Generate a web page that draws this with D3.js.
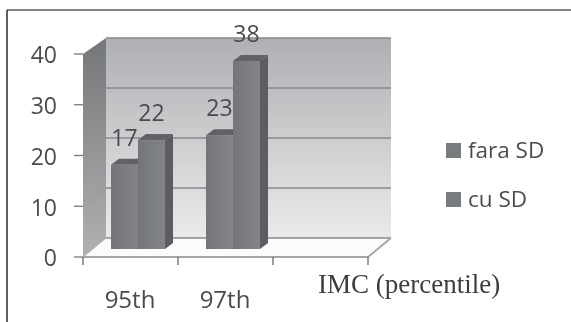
<!DOCTYPE html>
<html>
<head>
<meta charset="utf-8">
<script src="https://cdn.jsdelivr.net/npm/d3@7"></script>
<style>
html,body{margin:0;padding:0;background:#fff}
svg{display:block}
text{font-family:"Open Sans","Noto Sans",sans-serif;fill:#4a4c50}
</style>
</head>
<body>
<svg id="chart" width="571" height="322"></svg>
<script>
const categories = ["95th", "97th"];
const slots = ["95th", "97th", "blank"];
const seriesNames = ["fara SD", "cu SD"];
const faraSD = [17, 23];
const cuSD = [22, 38];
const yTicks = [0, 10, 20, 30, 40];

const svg = d3.select("#chart");
const depthWall = {dx: 23, dy: -19};
const depthBar = {dx: 8, dy: -6};

const x = d3.scaleBand().domain(slots).range([83, 368]).padding(0);
const yFront = d3.scaleLinear().domain([0, 40]).range([257, 54]);
const yWall = d3.scaleLinear().domain([0, 40]).range([238, 38]);
const yBar = d3.scaleLinear().domain([0, 40]).range([249, 51]);
const xSeries = d3.scaleBand().domain(seriesNames).range([28, 82]);

const defs = svg.append("defs");
function gradient(id, top, bottom, x2, y2) {
  const g = defs.append("linearGradient").attr("id", id)
    .attr("x1", 0).attr("y1", 0).attr("x2", x2).attr("y2", y2);
  g.append("stop").attr("offset", 0).attr("stop-color", top);
  g.append("stop").attr("offset", 1).attr("stop-color", bottom);
}
gradient("wallBack", "#aeb0b3", "#e9eaeb", 0, 1);
gradient("wallSide", "#747678", "#b0b1b3", 0, 1);
gradient("barFront", "#737578", "#828487", 1, 0);

defs.append("filter").attr("id", "soft")
  .append("feGaussianBlur").attr("stdDeviation", 0.5);

const root = svg.append("g").attr("filter", "url(#soft)");

// frame: only the top and left edges are ruled
root.append("line").attr("x1", 7).attr("x2", 571).attr("y1", 10).attr("y2", 10)
  .attr("stroke", "#5a5a5a").attr("stroke-width", 1.5);
root.append("line").attr("x1", 7).attr("x2", 7).attr("y1", 10).attr("y2", 322)
  .attr("stroke", "#4e4e4e").attr("stroke-width", 1.8);

const [x0, x1] = x.range();
const yB = yFront(0), yT = yFront(40);
const poly = pts => pts.map(p => p.join(",")).join(" ");

// back wall, side wall and floor
root.append("polygon").attr("fill", "url(#wallBack)").attr("points", poly([
  [x0 + depthWall.dx, yWall(40)], [x1 + depthWall.dx, yWall(40)],
  [x1 + depthWall.dx, yWall(0)], [x0 + depthWall.dx, yWall(0)]]));
root.append("polygon").attr("fill", "url(#wallSide)").attr("points", poly([
  [x0, yT], [x0 + depthWall.dx, yWall(40)], [x0 + depthWall.dx, yWall(0)], [x0, yB]]));
root.append("polygon").attr("fill", "#fbfbfb").attr("points", poly([
  [x0, yB], [x0 + depthWall.dx, yWall(0)], [x1 + depthWall.dx, yWall(0)], [x1, yB]]));

// gridlines across the back wall and faintly along the side wall
yTicks.forEach(t => {
  root.append("line").attr("x1", x0 + depthWall.dx).attr("x2", x1 + depthWall.dx)
    .attr("y1", yWall(t)).attr("y2", yWall(t))
    .attr("stroke", "#87898c").attr("stroke-width", 1.6);
  if (t > 0 && t < 40) {
    root.append("line").attr("x1", x0).attr("x2", x0 + depthWall.dx)
      .attr("y1", yFront(t)).attr("y2", yWall(t))
      .attr("stroke", "#8f9193").attr("stroke-width", 0.8).attr("opacity", 0.5);
  }
});

// floor outline
root.append("polyline").attr("fill", "none").attr("stroke", "#a3a5a8").attr("stroke-width", 1.8)
  .attr("points", poly([[x0, yB], [x1, yB], [x1 + depthWall.dx, yWall(0)]]));
root.append("line").attr("x1", x0).attr("x2", x0 + depthWall.dx)
  .attr("y1", yB).attr("y2", yWall(0)).attr("stroke", "#a3a5a8").attr("stroke-width", 1);

// axes
yTicks.forEach(t => {
  root.append("line").attr("x1", x0 - 9).attr("x2", x0)
    .attr("y1", yFront(t)).attr("y2", yFront(t)).attr("stroke", "#77797c").attr("stroke-width", 1.3);
  root.append("text").attr("x", 57).attr("y", yFront(t) + 1).attr("dy", "0.36em")
    .attr("text-anchor", "end").attr("font-size", 23).text(t);
});
[...slots.map(s => x(s)), x1].forEach(v => {
  root.append("line").attr("x1", v).attr("x2", v).attr("y1", yB).attr("y2", yB + 8)
    .attr("stroke", "#66686b").attr("stroke-width", 1.3);
});

// three-dimensional bars
const barData = categories.flatMap((c, i) => [
  {cat: c, name: seriesNames[0], value: faraSD[i]},
  {cat: c, name: seriesNames[1], value: cuSD[i]}
]);
const bars = root.append("g").selectAll("g").data(barData).join("g");
bars.append("polygon").attr("fill", "#5b5d60").attr("points", d => {
  const r = x(d.cat) + xSeries(d.name) + xSeries.bandwidth();
  return poly([[r, yBar(d.value)], [r + depthBar.dx, yBar(d.value) + depthBar.dy],
    [r + depthBar.dx, yBar(0) + depthBar.dy], [r, yBar(0)]]);
});
bars.append("polygon").attr("fill", "#606265").attr("points", d => {
  const l = x(d.cat) + xSeries(d.name), r = l + xSeries.bandwidth();
  return poly([[l, yBar(d.value)], [l + depthBar.dx, yBar(d.value) + depthBar.dy],
    [r + depthBar.dx, yBar(d.value) + depthBar.dy], [r, yBar(d.value)]]);
});
bars.append("rect").attr("fill", "url(#barFront)")
  .attr("x", d => x(d.cat) + xSeries(d.name))
  .attr("y", d => yBar(d.value))
  .attr("width", xSeries.bandwidth())
  .attr("height", d => yBar(0) - yBar(d.value));

// value labels sit on top of every bar
root.append("g").selectAll("text").data(barData).join("text")
  .attr("font-size", 23).attr("text-anchor", "middle")
  .attr("x", d => x(d.cat) + xSeries(d.name) + xSeries.bandwidth() / 2)
  .attr("y", d => yBar(d.value) - 19)
  .text(d => d.value);

// category labels
categories.forEach(c => {
  root.append("text").attr("x", x(c) + 47).attr("y", 308).attr("text-anchor", "middle")
    .attr("font-size", 24).text(c);
});
root.append("text").attr("x", 318).attr("y", 293).attr("font-size", 27)
  .style("font-family", "'Liberation Serif',serif").style("fill", "#3c3d40").text("IMC (percentile)");

// legend
seriesNames.forEach((n, i) => {
  const ly = 150.5 + i * 49;
  root.append("rect").attr("x", 446).attr("y", ly - 7.5).attr("width", 15).attr("height", 15).attr("fill", "#797b7e");
  root.append("text").attr("x", 468).attr("y", ly + 7).attr("font-size", 22.5).text(n);
});
</script>
</body>
</html>
